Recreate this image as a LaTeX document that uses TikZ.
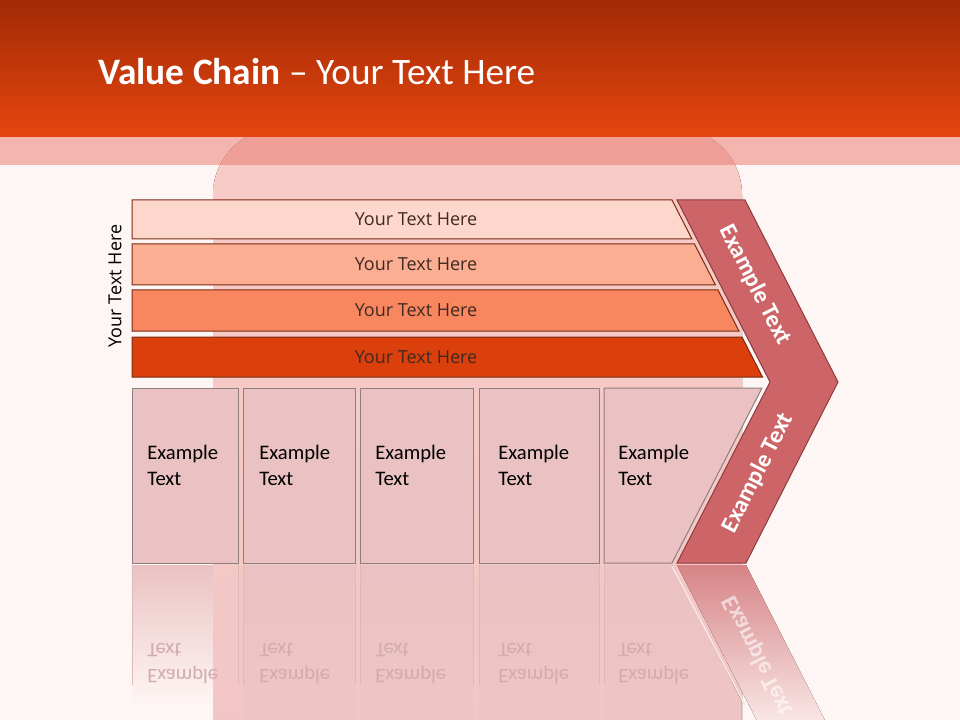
\documentclass[tikz,border=0pt]{standalone}
\usepackage{fontspec}
\setmainfont{Carlito}
\newfontfamily\barfont{Open Sans}
\definecolor{pagebg}{HTML}{FEF6F4}
\definecolor{headtop}{HTML}{A12A05}
\definecolor{headbot}{HTML}{E6460F}
\definecolor{bandcol}{HTML}{E9756A}
\definecolor{jartop}{HTML}{F9CBC7}
\definecolor{jarbot}{HTML}{EFC5C4}
\definecolor{barA}{HTML}{FDD7CB}
\definecolor{barB}{HTML}{FBAE92}
\definecolor{barC}{HTML}{F8875F}
\definecolor{barD}{HTML}{DB3F0B}
\definecolor{barline}{HTML}{7B2A12}
\definecolor{bartextcol}{HTML}{3F2A22}
\definecolor{boxfill}{HTML}{EBC2C3}
\definecolor{boxline}{HTML}{8E7F7F}
\definecolor{chevfill}{HTML}{CD6568}
\definecolor{chevline}{HTML}{8C3C3C}
\definecolor{reflcol}{HTML}{D2ACAC}
\definecolor{refline}{HTML}{DDB9B9}
\begin{document}
\begin{tikzpicture}[x=0.75pt,y=-0.75pt,
  barshape/.style={draw=barline,line width=0.75pt},
  bartext/.style={font=\barfont\fontsize{13.5}{16}\selectfont,text=bartextcol},
  boxshape/.style={draw=boxline,line width=0.75pt,fill=boxfill},
  boxtext/.style={font=\fontsize{15.5}{19.5}\selectfont,align=left,anchor=west,inner sep=0pt},
  armtext/.style={font=\bfseries\fontsize{18}{20}\selectfont,text=white}]
\useasboundingbox (0,0) rectangle (960,720);
% background, jar and header
\fill[pagebg] (0,0) rectangle (960,720);
\fill[top color=boxfill,bottom color=pagebg] (132,565) rectangle (238,705);
\fill[top color=jartop,bottom color=jarbot,rounded corners=50pt] (213,128) rectangle (742,900);
\fill[top color=headtop,bottom color=headbot] (0,0) rectangle (960,137);
\fill[bandcol,fill opacity=0.5] (0,137) rectangle (960,165);
\node[anchor=base west,text=white,font=\fontsize{28}{32}\selectfont,inner sep=0pt] (title)
  at (98,85) {\textbf{Value Chain} -- Your Text Here};
% bars
\foreach \top/\bot/\col [count=\i] in {200/239/barA,244/285/barB,290/331/barC,337/377/barD}{
  \draw[barshape,fill=\col] (132,\top) -- ({672+0.511*(\top-200)},\top)
    -- ({672+0.511*(\bot-200)},\bot) -- (132,\bot) -- cycle;
  \node[bartext] (bar\i) at (416,{(\top+\bot)/2}) {Your Text Here};
}
\node[bartext,text=black,rotate=90] (side) at (115,286) {Your Text Here};
% boxes
\foreach \l/\r/\tx [count=\i] in {132/238/147,243/355/259,360/473/375,479/599/498}{
  \draw[boxshape] (\l,388) rectangle (\r,563);
  \node[boxtext] (box\i) at (\tx,465) {Example\\Text};
}
\draw[boxshape] (604,388) -- (762,388) -- (672,563) -- (604,563) -- cycle;
\node[boxtext] (box5) at (618,465) {Example\\Text};
% reflection
\foreach \l/\r in {243/355,360/473,479/599}
  \fill[top color=boxfill,bottom color=jarbot] (\l,565) rectangle (\r,720);
\fill[top color=boxfill,bottom color=jarbot] (604,565) -- (672,565) -- (741,700) -- (741,720)
  -- (604,720) -- cycle;
\foreach \xa in {132,238,243,355,360,473,479,599,604}
  \draw[refline,line width=0.6pt] (\xa,565) -- (\xa,685);
\fill[top color=chevfill!80!white,bottom color=pagebg] (677,565) -- (746,565) -- (838,746)
  -- (770,746) -- cycle;
\draw[white!85!chevfill,line width=1pt] (672,566) -- (745,705);
\begin{scope}[shift={(0,1129)},yscale=-1,transform shape]
  \foreach \tx [count=\i] in {147,259,375,498,618}
    \node[boxtext,text=reflcol] (refl\i) at (\tx,465) {Example\\Text};
  \node[armtext,rotate=63,text=white,opacity=0.6] (reflarm) at (758,473) {Example Text};
\end{scope}
% chevron
\draw[fill=chevfill,draw=chevline,line width=0.75pt] (677,200) -- (745,200) -- (838,382)
  -- (746,563) -- (677,563) -- (770,382) -- cycle;
\node[armtext,rotate=-63] (armup) at (755,285) {Example Text};
\node[armtext,rotate=63] (armdown) at (758,473) {Example Text};
\end{tikzpicture}
\end{document}
